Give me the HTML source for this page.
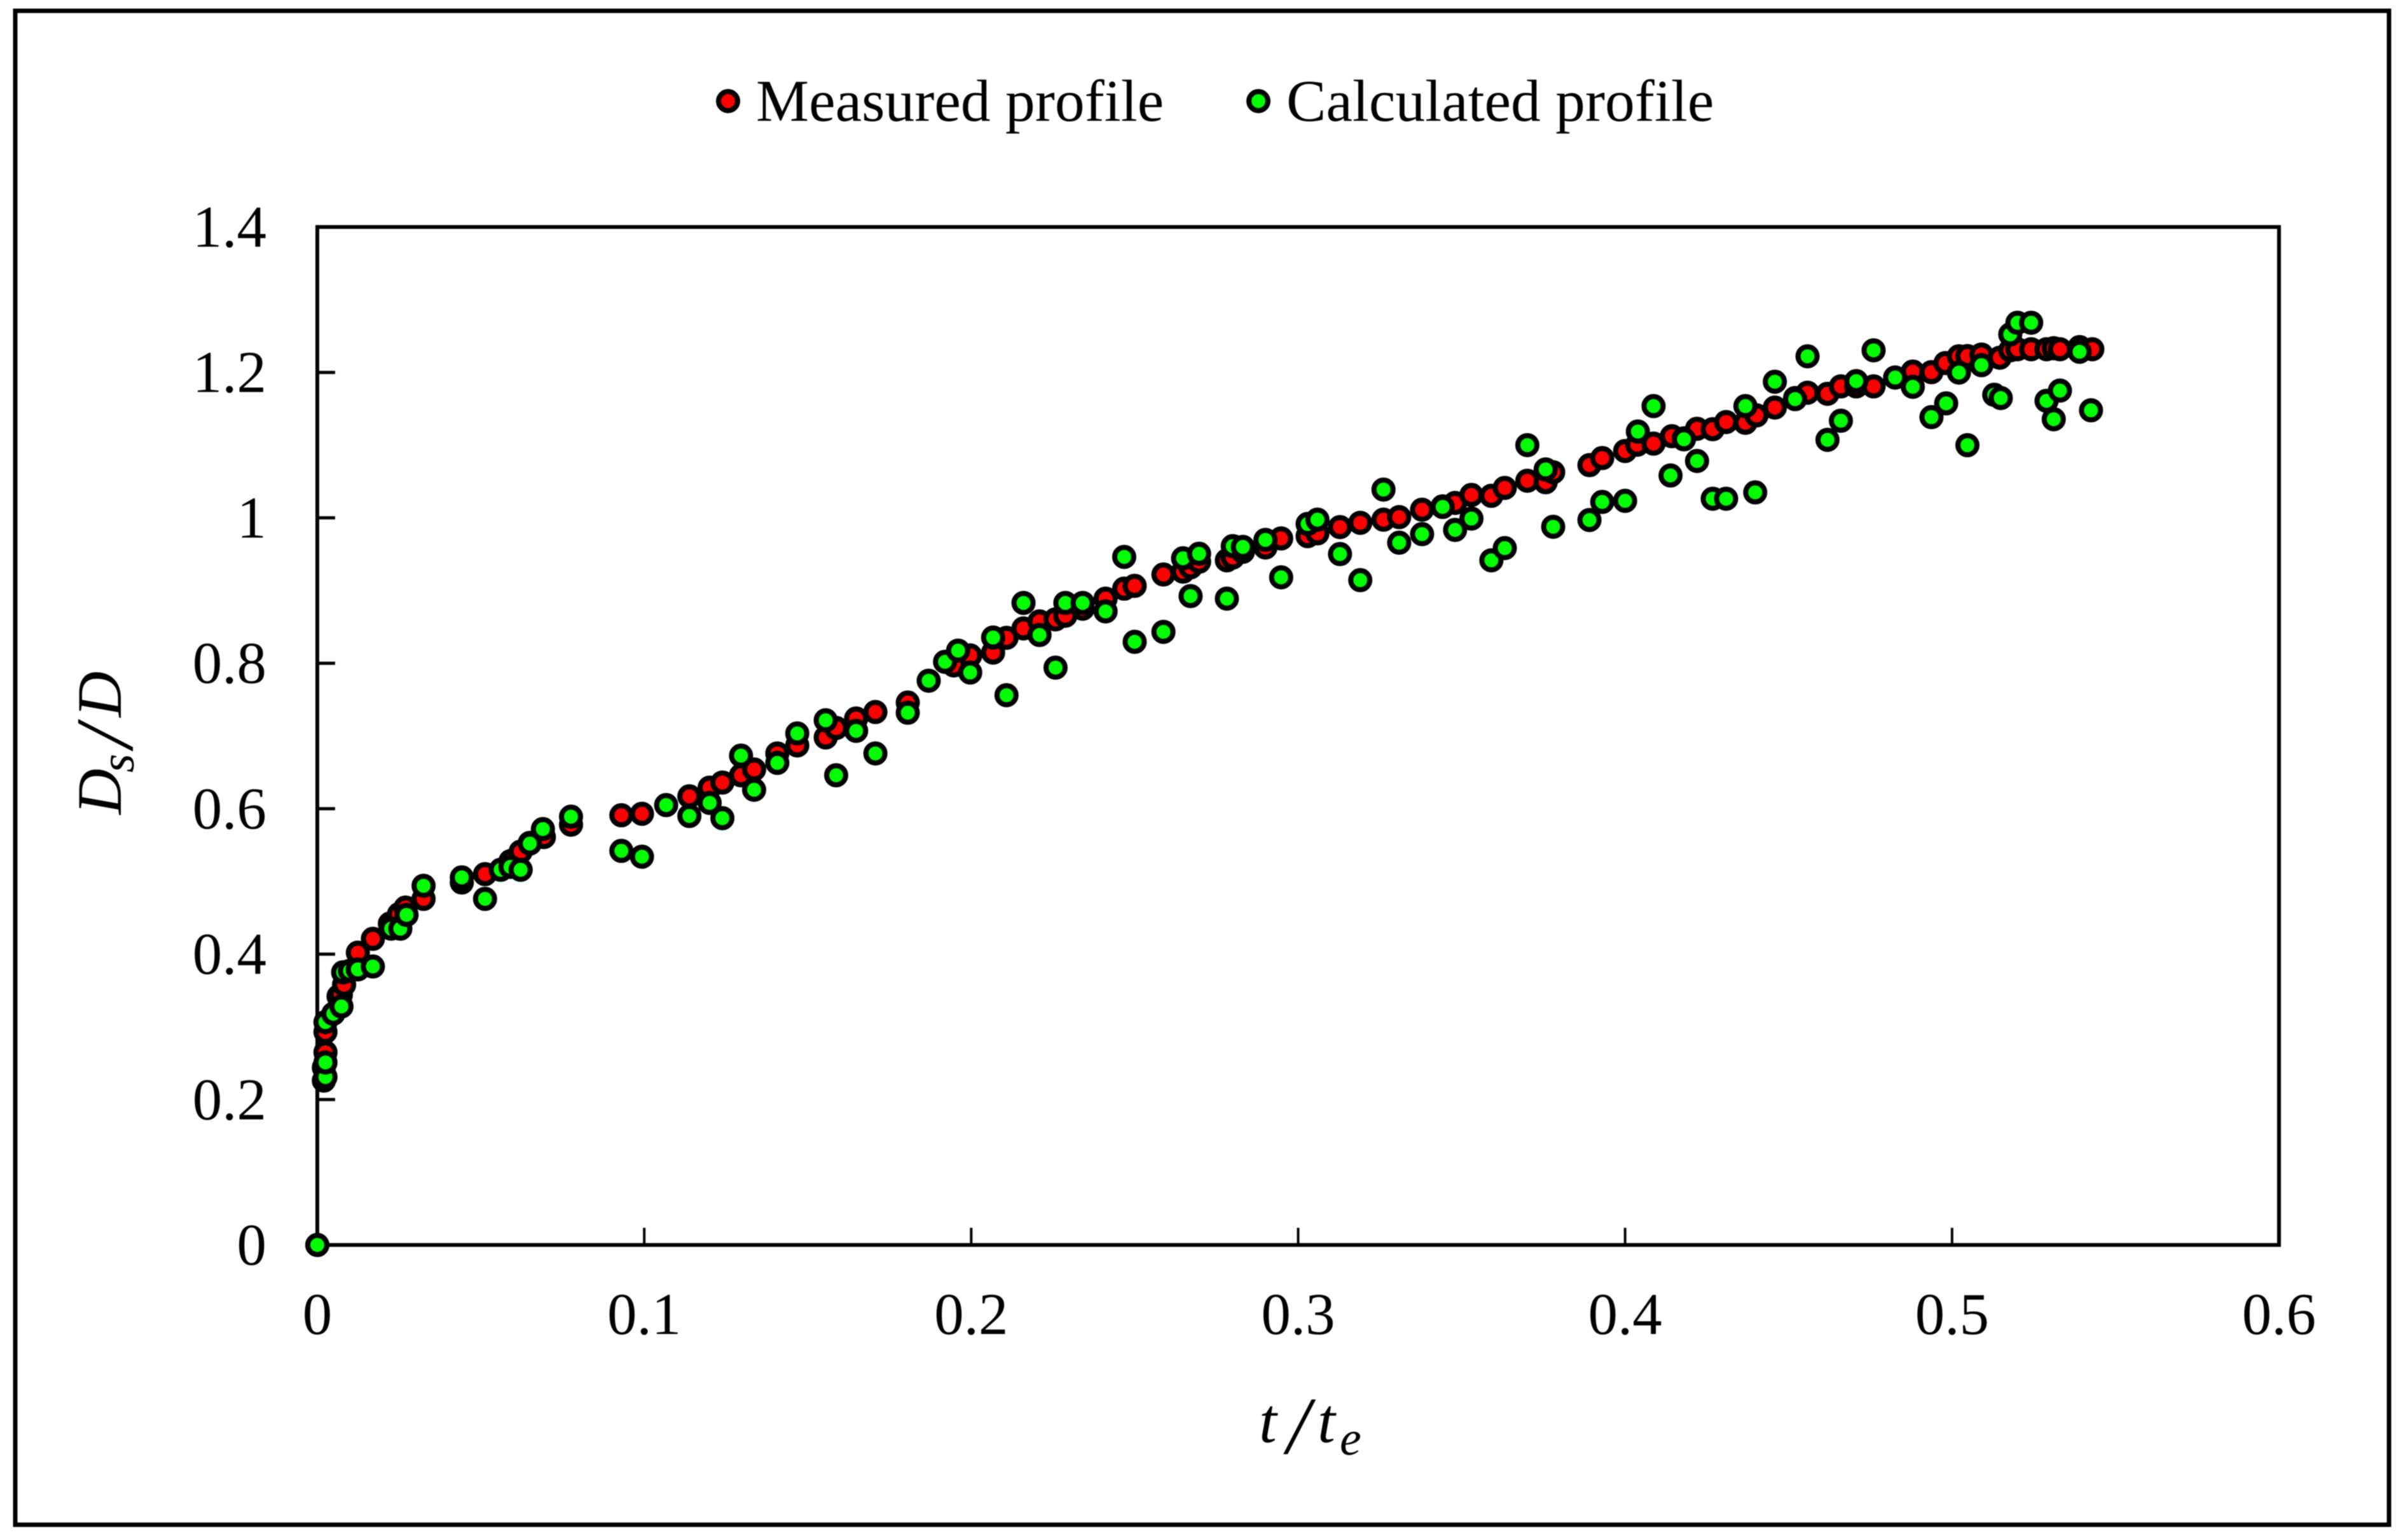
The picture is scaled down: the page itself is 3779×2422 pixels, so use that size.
<!DOCTYPE html>
<html lang="en">
<head>
<meta charset="utf-8">
<title>Measured and calculated profile</title>
<style>
html,body{margin:0;padding:0;background:#fff;}
svg{display:block;filter:blur(0.8px);}
text{font-family:"Liberation Serif",serif;fill:#000;}
</style>
</head>
<body>
<svg id="chart" xmlns="http://www.w3.org/2000/svg" width="3779" height="2422" viewBox="0 0 3779 2422">
  <rect x="0" y="0" width="3779" height="2422" fill="#fff"/>
  <rect x="24" y="17" width="3733" height="2381" fill="none" stroke="#000" stroke-width="7"/>
  <rect x="499" y="357" width="3085" height="1601" fill="none" stroke="#000" stroke-width="6"/>
  <g id="ticks"></g>
  <g id="tick-labels" font-size="93"></g>
  <g id="measured" fill="#ff0000"></g>
  <g id="calculated" fill="#00ff00"></g>

  <g>
    <circle cx="1145" cy="159" r="15" fill="#ff0000" stroke="#000" stroke-width="8"/>
    <text x="1189" y="190" font-size="93.5">Measured profile</text>
    <circle cx="1979" cy="159" r="15" fill="#00ff00" stroke="#000" stroke-width="8"/>
    <text x="2023" y="190" font-size="93.5">Calculated profile</text>
  </g>

  <text y="2268" font-size="100" font-style="italic"><tspan x="1980">t</tspan><tspan x="2024" y="2286" font-size="128">/</tspan><tspan x="2072" y="2268">t</tspan><tspan x="2107" y="2288" font-size="76">e</tspan></text>

  <g transform="translate(190,1278) rotate(-90)">
    <text font-size="100" font-style="italic" y="0"><tspan x="-3">D</tspan><tspan x="63" y="20" font-size="76">s</tspan><tspan x="102" y="18" font-size="128">/</tspan><tspan x="150" y="0">D</tspan></text>
  </g>
</svg>
<script>
const xTickLabels = ["0","0.1","0.2","0.3","0.4","0.5","0.6"];
const yTickLabels = ["0","0.2","0.4","0.6","0.8","1","1.2","1.4"];
const xTickValues = [0,0.1,0.2,0.3,0.4,0.5,0.6];
const yTickValues = [0,0.2,0.4,0.6,0.8,1,1.2,1.4];

const measuredT = [0,.002,.002,.0025,.0025,.0065,.0072,.0082,.0124,.017,.0222,.025,.027,.0325,.0442,.0513,.0591,.0622,.065,.0693,.0776,.093,.0993,.1138,.12,.1239,.1296,.1336,.1407,.1468,.1555,.1587,.1648,.1707,.1806,.1947,.1997,.2067,.2108,.216,.2209,.2258,.2288,.2341,.2411,.2468,.25,.2588,.2648,.2671,.2697,.2782,.28,.2831,.29,.2948,.3029,.3059,.3128,.319,.3261,.3309,.3379,.3442,.348,.353,.3591,.3632,.3701,.3757,.378,.3891,.393,.4,.4037,.4087,.4143,.418,.422,.4268,.4309,.4368,.4402,.4458,.452,.4558,.4619,.466,.4707,.476,.4826,.488,.4937,.498,.5021,.5047,.509,.5146,.5178,.52,.5242,.5289,.5311,.533,.539,.5429];
const measuredD = [0,.226,.244,.265,.293,.342,.344,.358,.402,.421,.442,.455,.464,.476,.4985,.51,.528,.541,.553,.561,.578,.591,.593,.617,.629,.636,.646,.654,.676,.687,.698,.711,.724,.733,.746,.797,.8108,.8147,.835,.8479,.8576,.8604,.8654,.875,.8889,.9026,.9065,.9221,.926,.932,.9397,.9416,.9455,.9533,.9592,.9717,.9748,.9787,.9873,.9932,.9975,1.001,1.0112,1.0158,1.0205,1.0315,1.0303,1.0412,1.051,1.049,1.0627,1.0725,1.0822,1.0919,1.1006,1.1021,1.1123,1.1094,1.1225,1.1219,1.1318,1.1307,1.1409,1.1517,1.1648,1.1721,1.1706,1.1808,1.1808,1.1808,1.193,1.2012,1.2004,1.2129,1.2222,1.2225,1.2246,1.2202,1.2304,1.2319,1.2319,1.2319,1.2333,1.2319,1.2348,1.2319];

const calculatedT = [0,.0025,.0025,.0025,.0049,.0074,.0079,.01,.0124,.017,.0226,.0254,.0273,.0325,.0442,.0513,.0561,.0591,.0622,.065,.069,.0776,.093,.0993,.1067,.1138,.12,.1239,.1296,.1336,.1407,.1468,.1555,.1587,.1648,.1707,.1806,.187,.192,.196,.1997,.2067,.2108,.216,.2209,.2258,.2288,.2341,.2411,.2468,.25,.2588,.2648,.2671,.2697,.2782,.28,.2831,.29,.2948,.3029,.3059,.3128,.319,.3261,.3309,.3379,.3442,.348,.353,.3591,.3632,.3701,.3757,.378,.3891,.393,.4,.4039,.4087,.4139,.418,.422,.4268,.4309,.4368,.4398,.4458,.452,.4558,.4619,.466,.4707,.476,.4826,.488,.4937,.4982,.5021,.5047,.509,.5129,.5149,.5178,.52,.5242,.5289,.5311,.533,.539,.5425];
const calculatedD = [0,.231,.251,.3065,.318,.328,.375,.377,.379,.383,.435,.435,.454,.494,.5055,.476,.516,.52,.516,.552,.572,.589,.542,.534,.605,.59,.608,.587,.673,.626,.663,.7035,.7216,.646,.707,.676,.732,.776,.802,.8174,.7873,.8354,.7561,.883,.8389,.794,.883,.883,.8713,.9463,.8295,.8432,.9444,.8924,.9506,.8889,.9611,.96,.9697,.9182,.9916,.9975,.9502,.9143,1.0389,.9658,.9776,1.015,.9834,.999,.9416,.9584,1.1,1.0666,.9877,.997,1.0219,1.0234,1.1187,1.1537,1.0583,1.108,1.0782,1.0263,1.0263,1.1537,1.035,1.1872,1.1633,1.2222,1.1073,1.1336,1.1881,1.2304,1.193,1.1802,1.1385,1.1575,1.1998,1.0999,1.21,1.1692,1.1648,1.2523,1.2683,1.2683,1.161,1.1356,1.175,1.2284,1.1479];

const SVG_NS = "http://www.w3.org/2000/svg";
function xScale(v){ return 499 + v * (3085 / 0.6); }
function yScale(v){ return 1958 - v * (1601 / 1.4); }

const tickGroup = document.getElementById("ticks");
const labelGroup = document.getElementById("tick-labels");

xTickValues.forEach(function(v, i){
  if (v > 0 && v < 0.6) {
    const t = document.createElementNS(SVG_NS, "line");
    
    
    t.setAttribute("x1", xScale(v));
    t.setAttribute("x2", xScale(v));
    t.setAttribute("y1", 1958);
    t.setAttribute("y2", 1931);
    t.setAttribute("stroke", "#000");
    t.setAttribute("stroke-width", 4);
    tickGroup.appendChild(t);
  }
  const l = document.createElementNS(SVG_NS, "text");
  
  
  l.setAttribute("x", xScale(v));
  l.setAttribute("y", 2098);
  l.setAttribute("text-anchor", "middle");
  l.textContent = xTickLabels[i];
  labelGroup.appendChild(l);
});

yTickValues.forEach(function(v, i){
  if (v > 0 && v < 1.4) {
    const t = document.createElementNS(SVG_NS, "line");
    
    
    t.setAttribute("x1", 499);
    t.setAttribute("x2", 527);
    t.setAttribute("y1", yScale(v));
    t.setAttribute("y2", yScale(v));
    t.setAttribute("stroke", "#000");
    t.setAttribute("stroke-width", 5);
    tickGroup.appendChild(t);
  }
  const l = document.createElementNS(SVG_NS, "text");
  
  
  l.setAttribute("x", 419);
  l.setAttribute("y", yScale(v) + 31);
  l.setAttribute("text-anchor", "end");
  l.textContent = yTickLabels[i];
  labelGroup.appendChild(l);
});

function drawMeasured(){
  const g = document.getElementById("measured");
  measuredT.forEach(function(t, i){
    const c = document.createElementNS(SVG_NS, "circle");
    
    
    c.setAttribute("cx", xScale(t));
    c.setAttribute("cy", yScale(measuredD[i]));
    c.setAttribute("r", 15);
    c.setAttribute("stroke", "#000");
    c.setAttribute("stroke-width", 8);
    g.appendChild(c);
  });
}
function drawCalculated(){
  const g = document.getElementById("calculated");
  calculatedT.forEach(function(t, i){
    const c = document.createElementNS(SVG_NS, "circle");
    
    
    c.setAttribute("cx", xScale(t));
    c.setAttribute("cy", yScale(calculatedD[i]));
    c.setAttribute("r", 15);
    c.setAttribute("stroke", "#000");
    c.setAttribute("stroke-width", 8);
    g.appendChild(c);
  });
}
drawMeasured();
drawCalculated();
</script>
</body>
</html>
